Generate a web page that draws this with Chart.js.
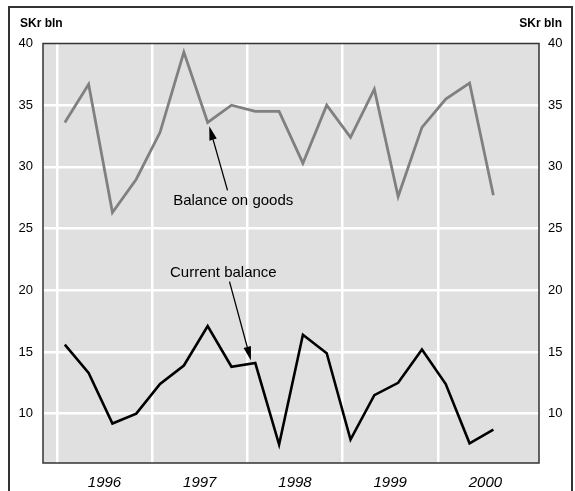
<!DOCTYPE html>
<html>
<head>
<meta charset="utf-8">
<script src="https://cdn.jsdelivr.net/npm/chart.js@4"></script>
<style>
  html, body { margin: 0; padding: 0; background: #fff; }
  #wrap { width: 575px; height: 491px; position: relative; }
</style>
</head>
<body>
<div id="wrap"><canvas id="chart"></canvas></div>
<script>
// quarterly data, SKr bln
const years = ['1996', '1997', '1998', '1999', '2000']
const quarters = [
  '1996Q1', '1996Q2', '1996Q3', '1996Q4',
  '1997Q1', '1997Q2', '1997Q3', '1997Q4',
  '1998Q1', '1998Q2', '1998Q3', '1998Q4',
  '1999Q1', '1999Q2', '1999Q3', '1999Q4',
  '2000Q1', '2000Q2', '2000Q3'
]
const goods = [33.6, 36.7, 26.3, 29.0, 32.8, 39.3, 33.6, 35.0, 34.5, 34.5,
  30.3, 35.0, 32.4, 36.3, 27.6, 33.2, 35.5, 36.8, 27.7]
const current = [15.6, 13.3, 9.2, 10.0, 12.4, 13.9, 17.1, 13.8, 14.1, 7.5,
  16.4, 14.9, 7.9, 11.5, 12.5, 15.2, 12.4, 7.6, 8.7]
const yTicks = [10, 15, 20, 25, 30, 35, 40]

// annotation texts with arrows, in data units (x = months from Jan 1996)
const notes = [
  { text: 'Balance on goods', x: 14.65, y: 27.25, from: [21.5, 28.1], to: [19.2, 33.3] },
  { text: 'Current balance', x: 14.25, y: 21.4, from: [21.75, 20.7], to: [24.45, 14.3] }
]

const FONT = "'Liberation Sans', Arial, Helvetica, sans-serif"

// middle month of each quarter, counted from Jan 1996
function monthOf(q) {
  const y = +q.slice(0, 4), n = +q.slice(5)
  return (y - 1996) * 12 + (n - 1) * 3 + 1
}
const toPoints = vals => vals.map((v, i) => ({ x: monthOf(quarters[i]), y: v }))

const frame = {
  id: 'frame',
  beforeDraw(chart) {
    const { ctx, chartArea: a } = chart
    ctx.save()
    ctx.fillStyle = '#e0e0e0'
    ctx.fillRect(a.left, a.top, a.right - a.left, a.bottom - a.top)
    ctx.restore()
  },
  afterDraw(chart) {
    const { ctx, chartArea: a, scales } = chart
    ctx.save()
    // plot border
    ctx.strokeStyle = '#333'
    ctx.lineWidth = 1.5
    ctx.strokeRect(a.left, a.top, a.right - a.left, a.bottom - a.top)
    // outer box
    ctx.lineWidth = 2
    ctx.beginPath()
    ctx.moveTo(9, chart.height + 2)
    ctx.lineTo(9, 7)
    ctx.lineTo(572, 7)
    ctx.lineTo(572, chart.height + 2)
    ctx.stroke()
    // unit labels
    ctx.fillStyle = '#000'
    ctx.font = 'bold 12px ' + FONT
    ctx.textBaseline = 'middle'
    ctx.textAlign = 'left'
    ctx.fillText('SKr bln', 20, 24)
    ctx.textAlign = 'right'
    ctx.fillText('SKr bln', 562, 24)
    // annotations
    ctx.font = '15px ' + FONT
    ctx.textAlign = 'left'
    notes.forEach(n => {
      ctx.fillText(n.text, scales.x.getPixelForValue(n.x), scales.y.getPixelForValue(n.y))
      const x1 = scales.x.getPixelForValue(n.from[0]), y1 = scales.y.getPixelForValue(n.from[1])
      const x2 = scales.x.getPixelForValue(n.to[0]), y2 = scales.y.getPixelForValue(n.to[1])
      const ang = Math.atan2(y2 - y1, x2 - x1)
      const len = 14, hw = 3.8
      const bx = x2 - len * Math.cos(ang), by = y2 - len * Math.sin(ang)
      ctx.strokeStyle = '#000'
      ctx.lineWidth = 1.3
      ctx.beginPath()
      ctx.moveTo(x1, y1)
      ctx.lineTo(bx, by)
      ctx.stroke()
      ctx.beginPath()
      ctx.moveTo(x2, y2)
      ctx.lineTo(bx + hw * Math.sin(ang), by - hw * Math.cos(ang))
      ctx.lineTo(bx - hw * Math.sin(ang), by + hw * Math.cos(ang))
      ctx.closePath()
      ctx.fillStyle = '#000'
      ctx.fill()
    })
    ctx.restore()
  }
}

const yAxis = (pos, width, pad) => ({
  type: 'linear',
  position: pos,
  min: 6,
  max: 40,
  afterBuildTicks: s => { s.ticks = yTicks.map(v => ({ value: v })) },
  afterFit: s => { s.width = width },
  border: { display: false },
  grid: {
    display: pos === 'left',
    drawTicks: false,
    lineWidth: 2.5,
    color: c => c.tick && c.tick.value < 40 ? '#fff' : 'rgba(0,0,0,0)'
  },
  ticks: { padding: pad, color: '#000', font: { family: FONT, size: 13 } }
})

new Chart(document.getElementById('chart'), {
  type: 'line',
  data: {
    datasets: [
      { label: 'Balance on goods', data: toPoints(goods), borderColor: '#808080', borderWidth: 2.8 },
      { label: 'Current balance', data: toPoints(current), borderColor: '#000', borderWidth: 2.6 }
    ]
  },
  options: {
    responsive: true,
    maintainAspectRatio: false,
    animation: false,
    layout: { padding: { top: 43.5, left: 0, right: 0, bottom: 0 } },
    elements: { point: { radius: 0 }, line: { tension: 0, borderJoinStyle: 'miter' } },
    plugins: { legend: { display: false }, tooltip: { enabled: false } },
    scales: {
      x: {
        type: 'linear',
        min: -1.75,
        max: 60.75,
        afterBuildTicks: s => {
          const t = []
          years.forEach((y, i) => { t.push({ value: i * 12 }); t.push({ value: i * 12 + 6 }) })
          s.ticks = t
        },
        afterFit: s => { s.height = 28 },
        border: { display: false },
        grid: {
          drawTicks: false,
          lineWidth: 2.5,
          color: c => c.tick && c.tick.value % 12 === 0 ? '#fff' : 'rgba(0,0,0,0)'
        },
        ticks: {
          autoSkip: false,
          maxRotation: 0,
          padding: 11,
          color: '#000',
          font: { family: FONT, size: 15, style: 'italic' },
          callback: v => v % 12 === 6 ? years[v / 12 - 0.5] : ''
        }
      },
      y: yAxis('left', 43, 10),
      y2: yAxis('right', 36, 9)
    }
  },
  plugins: [frame]
})
</script>
</body>
</html>
